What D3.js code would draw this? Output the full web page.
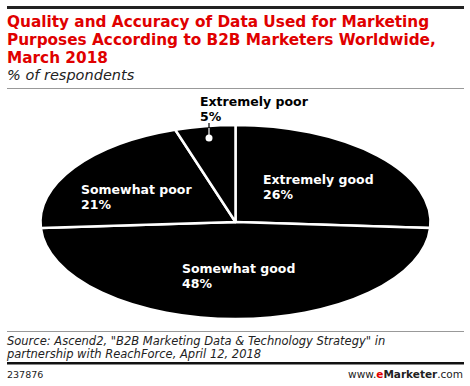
<!DOCTYPE html>
<html>
<head>
<meta charset="utf-8">
<script src="https://cdn.jsdelivr.net/npm/d3@7"></script>
<style>
  body { margin: 0; background: #fff; }
  text { font-family: "DejaVu Sans", Verdana, sans-serif; }
</style>
</head>
<body>
<svg id="chart" width="470" height="386"></svg>
<script>
var categories = ["Extremely good", "Somewhat good", "Somewhat poor", "Extremely poor"];
var values = [26, 48, 21, 5];
var titleLines = ["Quality and Accuracy of Data Used for Marketing",
                  "Purposes According to B2B Marketers Worldwide,",
                  "March 2018"];
var subtitle = "% of respondents";
var sourceLines = ["Source: Ascend2, \"B2B Marketing Data & Technology Strategy\" in",
                   "partnership with ReachForce, April 12, 2018"];

var svg = d3.select("#chart");

// header
svg.append("rect").attr("x", 7).attr("y", 6).attr("width", 457).attr("height", 3).attr("fill", "#222");
svg.selectAll(".title").data(titleLines).enter().append("text")
  .attr("x", 7).attr("y", function(d, i){ return 27 + i * 18; })
  .attr("fill", "#e00000").attr("font-size", 15.3).attr("font-weight", "bold")
  .text(function(d){ return d; });
svg.append("text").attr("x", 7).attr("y", 80)
  .attr("font-size", 14.5).attr("font-style", "italic").attr("fill", "#222").text(subtitle);
svg.append("rect").attr("x", 7).attr("y", 88).attr("width", 457).attr("height", 1).attr("fill", "#999");

// pie (circle squashed into ellipse)
var cx = 235.5, cy = 222, rx = 195, ry = 97;
var pie = d3.pie().sort(null).value(function(d){ return d; });
var arc = d3.arc().innerRadius(0).outerRadius(rx);
var arcs = pie(values);

var g = svg.append("g").attr("transform", "translate(" + cx + "," + cy + ") scale(1," + (ry / rx) + ")");
g.selectAll("path").data(arcs).enter().append("path")
  .attr("d", arc)
  .attr("fill", "#000")
  .attr("stroke", "#fff")
  .attr("stroke-width", 2.5)
  .attr("stroke-linejoin", "round")
  .attr("vector-effect", "non-scaling-stroke");

// labels
var labelPos = [[263, 184], [182, 273], [81, 194], [200, 106]];
var labels = svg.append("g");
arcs.forEach(function(a, i){
  var t = labels.append("text")
    .attr("x", labelPos[i][0]).attr("y", labelPos[i][1])
    .attr("font-size", 12.5).attr("font-weight", "bold")
    .attr("fill", i === 3 ? "#000" : "#fff");
  t.append("tspan").attr("x", labelPos[i][0]).text(categories[i]);
  t.append("tspan").attr("x", labelPos[i][0]).attr("dy", 15).text(values[i] + "%");
});

// leader for the small slice
var dotX = 209, dotY = 138;
labels.append("line").attr("x1", dotX).attr("x2", dotX).attr("y1", 123).attr("y2", 131)
  .attr("stroke", "#000").attr("stroke-width", 1.2);
labels.append("line").attr("x1", dotX).attr("x2", dotX).attr("y1", 128).attr("y2", dotY)
  .attr("stroke", "#fff").attr("stroke-width", 1.2);
labels.append("circle").attr("cx", dotX).attr("cy", dotY).attr("r", 3.5).attr("fill", "#fff");

// footer
svg.append("rect").attr("x", 7).attr("y", 331).attr("width", 457).attr("height", 1).attr("fill", "#999");
svg.selectAll(".src").data(sourceLines).enter().append("text")
  .attr("x", 7).attr("y", function(d, i){ return 345 + i * 13; })
  .attr("font-size", 11.5).attr("font-style", "italic").attr("fill", "#222")
  .text(function(d){ return d; });
svg.append("rect").attr("x", 7).attr("y", 362).attr("width", 457).attr("height", 2.5).attr("fill", "#111");
svg.append("text").attr("x", 7).attr("y", 378).attr("font-size", 9.5).attr("fill", "#222").text("237876");
var brand = svg.append("text").attr("x", 463).attr("y", 378).attr("font-size", 10.5)
  .attr("text-anchor", "end").attr("fill", "#222");
brand.append("tspan").text("www.");
brand.append("tspan").attr("fill", "#e00000").attr("font-weight", "bold").text("e");
brand.append("tspan").attr("font-weight", "bold").text("Marketer");
brand.append("tspan").text(".com");
</script>
</body>
</html>
